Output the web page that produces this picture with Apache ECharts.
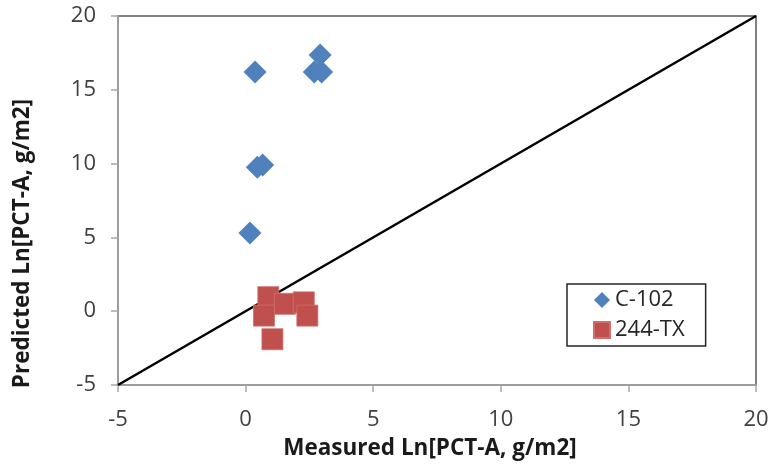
<!DOCTYPE html>
<html>
<head>
<meta charset="utf-8">
<script src="https://cdn.jsdelivr.net/npm/echarts@6/dist/echarts.min.js"></script>
<style>
  html, body { margin: 0; padding: 0; background: #fff; }
  #chart { width: 774px; height: 471px; }
</style>
</head>
<body>
<div id="chart"></div>
<script>
// Measured vs. predicted Ln[PCT-A] for two test series
const c102Measured   = [0.37, 2.92, 2.69, 2.98, 0.46, 0.67, 0.17];
const c102Predicted  = [16.2, 17.35, 16.2, 16.2, 9.75, 9.9, 5.3];
const tx244Measured  = [0.89, 0.72, 1.54, 2.28, 2.42, 1.05];
const tx244Predicted = [0.95, -0.3, 0.5, 0.6, -0.3, -1.9];
const parityLine     = [-5, 20];
const axisTicks      = [-5, 0, 5, 10, 15, 20];

const seriesNames = ['C-102', '244-TX'];
const fontFamily = '"Open Sans", "Noto Sans", sans-serif';

const pairs = (xs, ys) => xs.map((x, i) => [x, ys[i]]);

const chart = echarts.init(document.getElementById('chart'), null, { renderer: 'canvas' });

const axisCommon = {
  type: 'value',
  min: axisTicks[0],
  max: axisTicks[axisTicks.length - 1],
  interval: 5,
  splitLine: { show: false },
  axisLine: { show: true, onZero: false, lineStyle: { color: '#a6a6a6', width: 1.5 } },
  axisTick: { show: true, inside: false, length: 7, lineStyle: { color: '#a6a6a6', width: 1.5 } },
  nameLocation: 'middle'
};

const nameStyle = { fontFamily, fontSize: 22.5, fontWeight: 'bold', color: '#1a1a1a' };
const tickStyle = { fontFamily, fontSize: 22, color: '#404040' };

chart.setOption({
  animation: false,
  backgroundColor: '#ffffff',
  grid: {
    left: 118, right: 18, top: 16, bottom: 86,
    show: true, borderColor: '#595959', borderWidth: 1.5, backgroundColor: '#ffffff'
  },
  legend: {
    data: seriesNames,
    orient: 'vertical',
    left: 567, top: 284,
    padding: [5, 21, 5, 26],
    itemGap: 8,
    itemWidth: 16, itemHeight: 16,
    borderColor: '#262626', borderWidth: 1.5,
    textStyle: { fontFamily, fontSize: 22, color: '#262626' }
  },
  xAxis: Object.assign({}, axisCommon, {
    name: 'Measured Ln[PCT-A, g/m2]',
    nameGap: 52,
    nameTextStyle: Object.assign({}, nameStyle, { padding: [0, 14, 0, 0] }),
    axisLabel: Object.assign({ margin: 24 }, tickStyle)
  }),
  yAxis: Object.assign({}, axisCommon, {
    name: 'Predicted Ln[PCT-A, g/m2]',
    nameGap: 84,
    nameTextStyle: Object.assign({}, nameStyle, { padding: [0, 86, 0, 0] }),
    axisLabel: Object.assign({ margin: 22 }, tickStyle)
  }),
  series: [
    {
      name: 'parity',
      type: 'line',
      data: pairs(parityLine, parityLine),
      symbol: 'none',
      lineStyle: { color: '#000000', width: 2.5 },
      silent: true,
      z: 1
    },
    {
      name: seriesNames[1],
      type: 'scatter',
      symbol: 'rect',
      symbolSize: 21,
      data: pairs(tx244Measured, tx244Predicted),
      itemStyle: { color: '#c0504d', borderColor: '#d0706d', borderWidth: 0.8, opacity: 1 },
      z: 3
    },
    {
      name: seriesNames[0],
      type: 'scatter',
      symbol: 'diamond',
      symbolSize: 23,
      data: pairs(c102Measured, c102Predicted),
      itemStyle: { color: '#4f81bd', opacity: 1 },
      z: 4
    }
  ]
});
</script>
</body>
</html>
